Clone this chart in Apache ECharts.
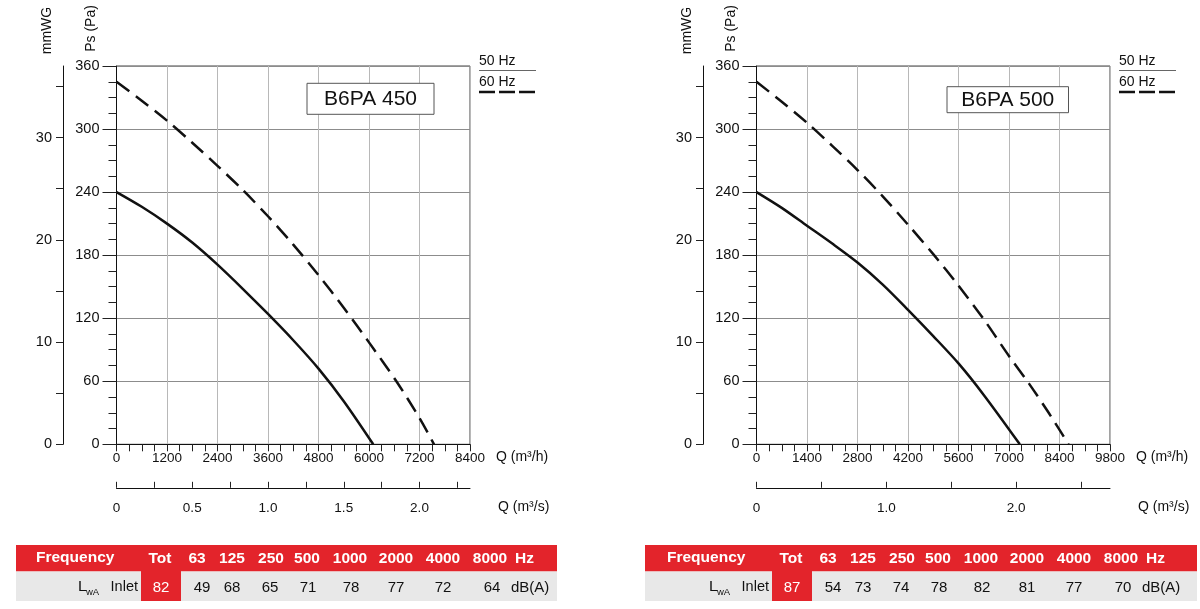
<!DOCTYPE html>
<html>
<head>
<meta charset="utf-8">
<script src="https://cdn.jsdelivr.net/npm/echarts@6/dist/echarts.min.js"></script>
<style>html,body{margin:0;padding:0;background:#fff}#c{width:1200px;height:609px}</style>
</head>
<body>
<div id="c"></div>
<script>
// ---------------- DATA ----------------
const models = ['B6PA 450', 'B6PA 500'];

// B6PA 450 : Q (m3/h) and Ps (Pa)
const q450_50 = [0, 600, 1200, 1800, 2400, 3000, 3600, 4200, 4800, 5400, 6100];
const p450_50 = [240, 226, 210, 192, 171, 148, 124, 99, 72, 41, 0];
const q450_60 = [0, 600, 1200, 1800, 2400, 3000, 3600, 4200, 4800, 5400, 6000, 6650, 7200, 7545];
const p450_60 = [345, 327, 308, 287, 265, 242, 217, 190, 161, 130, 97, 60, 25, 0];

// B6PA 500 : Q (m3/h) and Ps (Pa)
const q500_50 = [0, 700, 1400, 2100, 2800, 3500, 4200, 4900, 5600, 6300, 7300];
const p500_50 = [240, 225, 208, 191, 173, 152, 128, 103, 77, 47, 0];
const q500_60 = [0, 700, 1400, 2100, 2800, 3500, 4200, 4900, 5600, 6300, 7000, 7550, 8100, 8650];
const p500_60 = [345, 326, 306, 284, 261, 236, 209, 181, 151, 119, 84, 58, 30, 0];

// axes
const qMax = [8400, 9800];
const qStep = [1200, 1400];
const psMax = 360, psStep = 60;
const mmwgMax = 37;
const mmwgLabels = [0, 10, 20, 30];
const mmwgTicks = [0, 5, 10, 15, 20, 25, 30, 35];
const m3sLabels450 = [0, 0.5, 1.0, 1.5, 2.0];
const m3sTicks450 = [0, 0.25, 0.5, 0.75, 1.0, 1.25, 1.5, 1.75, 2.0, 2.25];
const m3sLabels500 = [0, 1.0, 2.0];
const m3sTicks500 = [0, 0.5, 1.0, 1.5, 2.0, 2.5];

// sound table
const freqHeaders = ['Tot', '63', '125', '250', '500', '1000', '2000', '4000', '8000'];
const lwa450 = [82, 49, 68, 65, 71, 78, 77, 72, 64];
const lwa500 = [87, 54, 73, 74, 78, 82, 81, 77, 70];
const legendLabels = ['50 Hz', '60 Hz'];

// ---------------- LAYOUT ----------------
const FONT = '"Liberation Sans", Arial, Helvetica, sans-serif';
const RED = '#e3242b';
const GREY = '#e8e8e8';
const INK = '#111111';
const panels = [
  { model: models[0], q50: q450_50, p50: p450_50, q60: q450_60, p60: p450_60, qMax: qMax[0], qStep: qStep[0],
    m3sL: m3sLabels450, m3sT: m3sTicks450, lwa: lwa450, off: 0,
    box: [307, 83.3, 127, 31], tabL: 16, tabR: 557, tot: 141 },
  { model: models[1], q50: q500_50, p50: p500_50, q60: q500_60, p60: p500_60, qMax: qMax[1], qStep: qStep[1],
    m3sL: m3sLabels500, m3sT: m3sTicks500, lwa: lwa500, off: 640,
    box: [947, 86.7, 121.5, 26], tabL: 645, tabR: 1197, tot: 772 }
];
const hdrX = [19, 56, 91, 130, 166, 209, 255, 302, 349];
const valX = [20, 61, 91, 129, 167, 210, 255, 302, 351];

const zip = (a, b) => a.map((v, i) => [v, b[i]]);

const grids = [], xAxes = [], yAxes = [], series = [], graphics = [];

function txt(x, y, text, opt) {
  opt = opt || {};
  const st = {
    text: text, fill: opt.fill || INK,
    font: (opt.weight || 'normal') + ' ' + (opt.size || 14) + 'px ' + FONT,
    align: opt.align || 'left', textAlign: opt.align || 'left',
    verticalAlign: 'middle', textVerticalAlign: 'middle'
  };
  return { type: 'text', x: x, y: y, rotation: opt.rot || 0, style: st, z: 10, silent: true };
}

panels.forEach((P, i) => {
  const gl = 116.5 + P.off;
  const gt = 66, gw = 353.5, gh = 378.3;
  grids.push({ left: gl, top: gt, width: gw, height: gh, show: true, borderColor: '#444', borderWidth: 1 });

  xAxes.push({
    type: 'value', gridIndex: i, min: 0, max: P.qMax, interval: P.qStep, position: 'bottom',
    axisLine: { show: true, onZero: false, lineStyle: { color: INK, width: 1 } },
    axisTick: { show: true, length: 7, inside: false, lineStyle: { color: '#222' } },
    minorTick: { show: true, splitNumber: 4, length: 7, lineStyle: { color: '#222' } },
    splitLine: { show: true, lineStyle: { color: '#b8b8b8', width: 1 } },
    axisLabel: { color: INK, fontSize: 13.5, fontFamily: FONT, margin: 7, formatter: v => String(v) }
  });
  xAxes.push({
    type: 'value', gridIndex: i, min: 0, max: P.qMax / 3600, position: 'bottom', offset: 43.5,
    axisLine: { show: true, onZero: false, lineStyle: { color: INK, width: 1 } },
    axisTick: { show: true, inside: true, length: 6, customValues: P.m3sT, lineStyle: { color: '#222' } },
    axisLabel: { customValues: P.m3sL, formatter: v => (v === 0 ? '0' : v.toFixed(1)), color: INK, fontSize: 13.5, fontFamily: FONT, margin: 13 },
    splitLine: { show: false }
  });
  yAxes.push({
    type: 'value', gridIndex: i, min: 0, max: psMax, interval: psStep, position: 'left',
    axisLine: { show: true, onZero: false, lineStyle: { color: INK, width: 1 } },
    axisTick: { show: true, length: 14, lineStyle: { color: '#222' } },
    minorTick: { show: true, splitNumber: 4, length: 8, lineStyle: { color: '#222' } },
    splitLine: { show: true, lineStyle: { color: '#8c8c8c', width: 1 } },
    axisLabel: { color: INK, fontSize: 14.5, fontFamily: FONT, margin: 17 }
  });
  yAxes.push({
    type: 'value', gridIndex: i, min: 0, max: mmwgMax, position: 'left', offset: 53.5,
    axisLine: { show: true, onZero: false, lineStyle: { color: INK, width: 1 } },
    axisTick: { show: true, length: 7, customValues: mmwgTicks, lineStyle: { color: '#222' } },
    axisLabel: { customValues: mmwgLabels, color: INK, fontSize: 14.5, fontFamily: FONT, margin: 11 },
    splitLine: { show: false }
  });

  series.push({
    type: 'line', xAxisIndex: 2 * i, yAxisIndex: 2 * i, data: zip(P.q50, P.p50),
    smooth: 0.3, symbol: 'none', silent: true, z: 4,
    lineStyle: { color: INK, width: 2.5, type: 'solid' }
  });
  series.push({
    type: 'line', xAxisIndex: 2 * i, yAxisIndex: 2 * i, data: zip(P.q60, P.p60),
    smooth: 0.3, symbol: 'none', silent: true, z: 4,
    lineStyle: { color: INK, width: 2.5, type: [16, 8] }
  });

  const o = P.off;
  // model box
  graphics.push({ type: 'rect', shape: { x: P.box[0], y: P.box[1], width: P.box[2], height: P.box[3] },
    style: { fill: '#fff', stroke: '#555', lineWidth: 1 }, z: 9, silent: true });
  graphics.push(txt(P.box[0] + P.box[2] / 2, P.box[1] + P.box[3] / 2 + 0.5, P.model, { size: 21, align: 'center' }));

  // legend
  graphics.push(txt(479 + o, 61, legendLabels[0], { size: 14 }));
  graphics.push({ type: 'line', shape: { x1: 479 + o, y1: 70.5, x2: 536 + o, y2: 70.5 },
    style: { stroke: '#666', lineWidth: 1 }, z: 10, silent: true });
  graphics.push(txt(479 + o, 82.5, legendLabels[1], { size: 14 }));
  graphics.push({ type: 'line', shape: { x1: 479 + o, y1: 92, x2: 535 + o, y2: 92 },
    style: { stroke: INK, lineWidth: 2.4, lineDash: [16, 4] }, z: 10, silent: true });

  // axis names
  graphics.push(txt(47 + o, 30.5, 'mmWG', { size: 14, align: 'center', rot: Math.PI / 2 }));
  graphics.push(txt(91 + o, 28.5, 'Ps (Pa)', { size: 14, align: 'center', rot: Math.PI / 2 }));
  graphics.push(txt(496 + o, 457, 'Q (m³/h)', { size: 14 }));
  graphics.push(txt(498 + o, 507, 'Q (m³/s)', { size: 14 }));

  // sound table
  const tw = P.tabR - P.tabL, T = P.tot;
  graphics.push({ type: 'rect', shape: { x: P.tabL, y: 545, width: tw, height: 26.5 }, style: { fill: RED }, z: 8, silent: true });
  graphics.push({ type: 'rect', shape: { x: P.tabL, y: 571.5, width: tw, height: 29.5 }, style: { fill: GREY }, z: 8, silent: true });
  graphics.push({ type: 'rect', shape: { x: T, y: 571, width: 40, height: 30 }, style: { fill: RED }, z: 9, silent: true });
  graphics.push(txt(T - 105, 557.5, 'Frequency', { size: 15.5, weight: 'bold', fill: '#fff' }));
  freqHeaders.forEach((h, k) => graphics.push(txt(T + hdrX[k], 559, h, { size: 15.5, weight: 'bold', fill: '#fff', align: 'center' })));
  graphics.push(txt(T + 374, 559, 'Hz', { size: 15.5, weight: 'bold', fill: '#fff' }));
  graphics.push(txt(T - 63, 586.5, 'L', { size: 15.5 }));
  graphics.push(txt(T - 55, 592.5, 'wA', { size: 9.5 }));
  graphics.push(txt(T - 3, 586.5, 'Inlet', { size: 14.5, align: 'right' }));
  P.lwa.forEach((v, k) => graphics.push(txt(T + valX[k], 587.5, String(v),
    { size: 15, align: 'center', fill: k === 0 ? '#fff' : INK })));
  graphics.push(txt(T + 370, 587.5, 'dB(A)', { size: 15 }));
});

const chart = echarts.init(document.getElementById('c'), null, { renderer: 'canvas' });
chart.setOption({
  animation: false,
  backgroundColor: '#fff',
  textStyle: { fontFamily: FONT },
  grid: grids, xAxis: xAxes, yAxis: yAxes, series: series, graphic: graphics
});
</script>
</body>
</html>
